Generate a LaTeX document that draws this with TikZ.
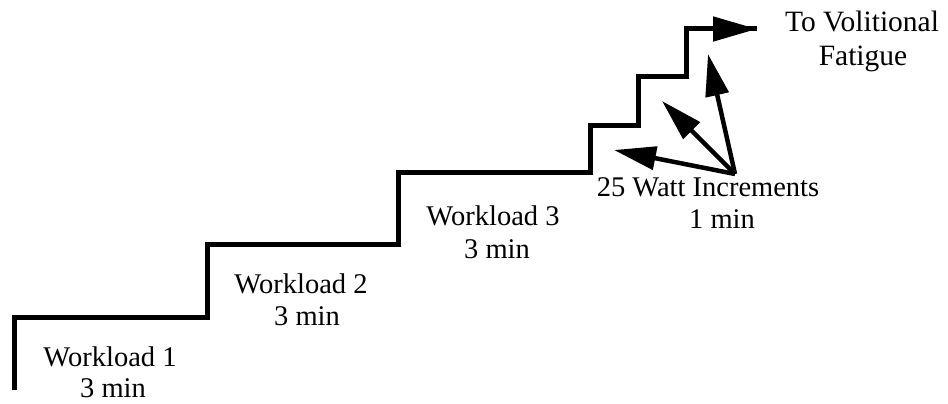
\documentclass[tikz,border=0pt]{standalone}
\usepackage{fontspec}
\setmainfont{Liberation Serif}
\usetikzlibrary{arrows.meta}
\begin{document}
\begin{tikzpicture}[x=1pt,y=-1pt,
  stair/.style={line width=5pt, line cap=butt, line join=miter},
  bigarrow/.style={line width=4.5pt, -{Triangle[length=42pt,width=23pt]}},
  lbl/.style={anchor=base, font=\fontsize{28.5}{33}\selectfont, inner sep=0pt},
  biglbl/.style={lbl, font=\fontsize{29.5}{34}\selectfont}]
\useasboundingbox (0,0) rectangle (948,404);
% staircase corners
\coordinate (s0) at (14,390);
\coordinate (s1) at (14,317);
\coordinate (s2) at (207,317);
\coordinate (s3) at (207,244);
\coordinate (s4) at (398,244);
\coordinate (s5) at (398,172);
\coordinate (s6) at (590,172);
\coordinate (s7) at (590,125);
\coordinate (s8) at (638,125);
\coordinate (s9) at (638,77);
\coordinate (s10) at (686,77);
\coordinate (s11) at (686,29);
\coordinate (s12) at (757,29);
\draw[stair] (s0) -- (s1) -- (s2) -- (s3) -- (s4) -- (s5) -- (s6) -- (s7)
  -- (s8) -- (s9) -- (s10) -- (s11) -- (s12);
\draw[stair, -{Triangle[length=44pt,width=24pt]}] (s11) -- (s12);
% fan of increment arrows
\coordinate (fan) at (735,174);
\coordinate (f1) at (614,150);
\coordinate (f2) at (662,101);
\coordinate (f3) at (708,54);
\draw[bigarrow] (fan) -- (f1);
\draw[bigarrow] (fan) -- (f2);
\draw[bigarrow] (fan) -- (f3);
% labels
\node[lbl] (w1a) at (110,366) {Workload 1};
\node[lbl] (w1b) at (113,397) {3 min};
\node[lbl] (w2a) at (301,293) {Workload 2};
\node[lbl] (w2b) at (307,325) {3 min};
\node[lbl] (w3a) at (493,225) {Workload 3};
\node[lbl] (w3b) at (497,258) {3 min};
\node[lbl] (inca) at (708,196) {25 Watt Increments};
\node[lbl] (incb) at (722,228) {1 min};
\node[biglbl] (fata) at (862,32) {To Volitional};
\node[biglbl] (fatb) at (863,66) {Fatigue};
\end{tikzpicture}
\end{document}
